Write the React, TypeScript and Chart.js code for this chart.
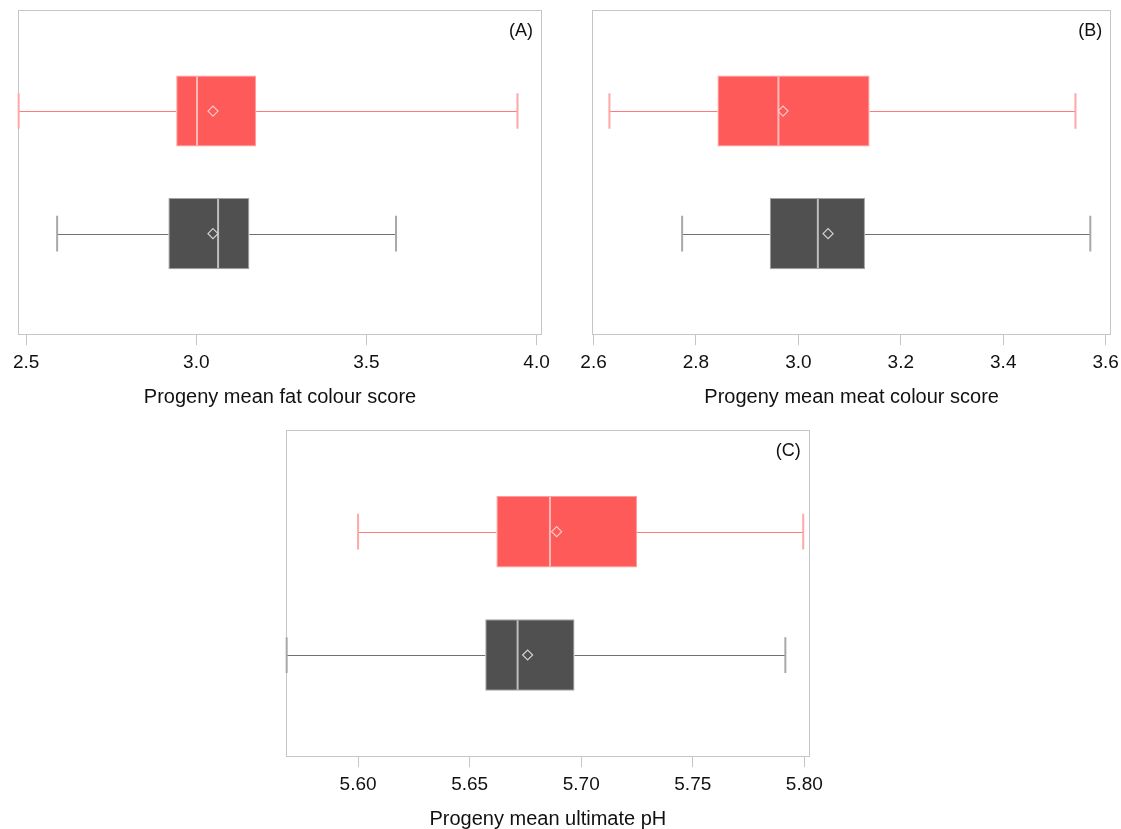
import React, { useEffect, useRef } from 'react';
import { Chart, registerables } from 'chart.js';

Chart.register(...registerables);

// ---- Data ----
const groupPos = [1, 2]; // red group on top, dark group below

// (A) Progeny mean fat colour score
const fatMin = [2.478, 2.591];
const fatQ1 = [2.941, 2.918];
const fatMedian = [3.002, 3.064];
const fatQ3 = [3.176, 3.156];
const fatMax = [3.944, 3.587];
const fatMean = [3.049, 3.049];
const fatTicks = [2.5, 3.0, 3.5, 4.0];

// (B) Progeny mean meat colour score
const meatMin = [2.631, 2.773];
const meatQ1 = [2.842, 2.944];
const meatMedian = [2.961, 3.038];
const meatQ3 = [3.139, 3.13];
const meatMax = [3.541, 3.57];
const meatMean = [2.97, 3.058];
const meatTicks = [2.6, 2.8, 3.0, 3.2, 3.4, 3.6];

// (C) Progeny mean ultimate pH
const phMin = [5.6, 5.568];
const phQ1 = [5.662, 5.657];
const phMedian = [5.686, 5.6715];
const phQ3 = [5.725, 5.697];
const phMax = [5.7995, 5.7915];
const phMean = [5.689, 5.676];
const phTicks = [5.6, 5.65, 5.7, 5.75, 5.8];

// ---- Styles ----
const FONT = "'Liberation Sans', Arial, Helvetica, sans-serif";
const fillColors = ['#FF5A5A', '#505050'];
const boxBorderColors = ['#FF9C9C', '#A3A3A3'];
const whiskerColors = ['#FF7A7A', '#707070'];
const capColors = ['#FFA8A8', '#A8A8A8'];
const medianColors = ['#FFB8B8', '#BEBEBE'];
const meanColors = ['#FFCACA', '#D2D2D2'];
const frameColor = '#C6C6C6';

const boxExtras = {
  id: 'boxExtras',
  beforeDatasetsDraw(chart: any) {
    const ctx = chart.ctx;
    const a = chart.chartArea;
    ctx.save();
    ctx.strokeStyle = frameColor;
    ctx.lineWidth = 1;
    ctx.strokeRect(Math.round(a.left) + 0.5, Math.round(a.top) + 0.5, Math.round(a.right - a.left) - 1, Math.round(a.bottom - a.top) - 1);
    ctx.restore();
  },
  beforeDatasetDraw(chart: any, args: any, opts: any) {
    if (args.meta.type !== 'bar') return;
    const ctx = chart.ctx;
    const xs = chart.scales.x;
    ctx.save();
    args.meta.data.forEach((el: any, i: number) => {
      const { y, height } = el.getProps(['y', 'height'], true);
      const yc = Math.round(y) + 0.5;
      const xmin = xs.getPixelForValue(opts.min[i]);
      const xq1 = xs.getPixelForValue(opts.q1[i]);
      const xq3 = xs.getPixelForValue(opts.q3[i]);
      const xmax = xs.getPixelForValue(opts.max[i]);
      ctx.strokeStyle = whiskerColors[i];
      ctx.lineWidth = 1;
      ctx.beginPath();
      ctx.moveTo(xmin, yc);
      ctx.lineTo(xq1, yc);
      ctx.moveTo(xq3, yc);
      ctx.lineTo(xmax, yc);
      ctx.stroke();
      const ch = Math.abs(height) / 4;
      ctx.strokeStyle = capColors[i];
      ctx.lineWidth = 2;
      ctx.beginPath();
      ctx.moveTo(xmin, y - ch);
      ctx.lineTo(xmin, y + ch);
      ctx.moveTo(xmax, y - ch);
      ctx.lineTo(xmax, y + ch);
      ctx.stroke();
    });
    ctx.restore();
  },
  afterDatasetDraw(chart: any, args: any, opts: any) {
    if (args.meta.type !== 'bar') return;
    const ctx = chart.ctx;
    const xs = chart.scales.x;
    ctx.save();
    args.meta.data.forEach((el: any, i: number) => {
      const { y, height } = el.getProps(['y', 'height'], true);
      const h = Math.abs(height) / 2;
      const xm = xs.getPixelForValue(opts.median[i]);
      ctx.strokeStyle = medianColors[i];
      ctx.lineWidth = 2;
      ctx.beginPath();
      ctx.moveTo(xm, y - h + 1);
      ctx.lineTo(xm, y + h - 1);
      ctx.stroke();
    });
    ctx.restore();
  },
  afterDraw(chart: any, _args: any, opts: any) {
    const ctx = chart.ctx;
    const a = chart.chartArea;
    ctx.save();
    ctx.fillStyle = '#111';
    ctx.font = `18px ${FONT}`;
    ctx.textAlign = 'right';
    ctx.textBaseline = 'middle';
    ctx.fillText(opts.label, a.right - 9, a.top + 21);
    ctx.restore();
  },
};

interface PanelCfg {
  left: number; top: number; w: number; h: number;
  padding: { left: number; right: number; top: number; bottom: number };
  min: number[]; q1: number[]; median: number[]; q3: number[]; max: number[]; mean: number[];
  ticks: number[]; decimals: number; xMin: number; xMax: number;
  title: string; label: string;
}

function Panel({ cfg }: { cfg: PanelCfg }) {
  const ref = useRef<HTMLCanvasElement>(null);
  useEffect(() => {
    if (!ref.current) return;
    const chart = new Chart(ref.current, {
      type: 'bar',
      data: {
        datasets: [
          {
            type: 'scatter',
            label: 'Mean',
            data: cfg.mean.map((m, i) => ({ x: m, y: groupPos[i] })),
            pointStyle: 'rectRot',
            pointRadius: 5,
            pointBorderWidth: 1.2,
            pointBorderColor: meanColors,
            pointBackgroundColor: 'rgba(0,0,0,0)',
            showLine: false,
            order: 0,
          } as any,
          {
            type: 'bar',
            label: 'IQR',
            data: cfg.q1.map((q, i) => ({ x: [q, cfg.q3[i]], y: groupPos[i] })),
            backgroundColor: fillColors,
            borderColor: boxBorderColors,
            borderWidth: 1,
            borderSkipped: false,
            barPercentage: 0.58,
            categoryPercentage: 1,
            order: 1,
          } as any,
        ],
      },
      options: {
        indexAxis: 'y',
        animation: false,
        responsive: false,
        layout: { padding: cfg.padding },
        plugins: {
          legend: { display: false },
          tooltip: { enabled: false },
          boxExtras: {
            min: cfg.min, q1: cfg.q1, median: cfg.median, q3: cfg.q3, max: cfg.max, label: cfg.label,
          },
        } as any,
        scales: {
          x: {
            type: 'linear',
            min: cfg.xMin,
            max: cfg.xMax,
            offset: false,
            afterBuildTicks: (s: any) => {
              s.ticks = cfg.ticks.map((v) => ({ value: v }));
            },
            ticks: {
              callback: (v: any) => Number(v).toFixed(cfg.decimals),
              font: { family: FONT, size: 19 },
              color: '#111',
              padding: 6,
              maxRotation: 0,
              autoSkip: false,
            },
            grid: {
              display: true,
              drawOnChartArea: false,
              drawTicks: true,
              tickLength: 10,
              color: frameColor,
              lineWidth: 1,
              offset: false,
            },
            border: { display: false },
            title: {
              display: true,
              text: cfg.title,
              font: { family: FONT, size: 20 },
              color: '#111',
              padding: { top: 5, bottom: 4 },
            },
          },
          y: {
            type: 'linear',
            reverse: true,
            offset: false,
            min: 0.1755,
            max: 2.8286,
            display: false,
            grid: { offset: false },
            afterBuildTicks: (s: any) => {
              s.ticks = groupPos.map((v) => ({ value: v }));
            },
          },
        } as any,
      },
      plugins: [boxExtras],
    } as any);
    return () => chart.destroy();
  }, []);
  return (
    <canvas
      ref={ref}
      width={cfg.w}
      height={cfg.h}
      style={{ position: 'absolute', left: cfg.left, top: cfg.top, width: cfg.w, height: cfg.h }}
    />
  );
}

const panelA: PanelCfg = {
  left: 0, top: 0, w: 560, h: 415,
  padding: { left: 18, right: 18, top: 10, bottom: 2 },
  min: fatMin, q1: fatQ1, median: fatMedian, q3: fatQ3, max: fatMax, mean: fatMean,
  ticks: fatTicks, decimals: 1, xMin: 2.476, xMax: 4.016,
  title: 'Progeny mean fat colour score', label: '(A)',
};

const panelB: PanelCfg = {
  left: 570, top: 0, w: 555, h: 415,
  padding: { left: 22, right: 11, top: 10, bottom: 2 },
  min: meatMin, q1: meatQ1, median: meatMedian, q3: meatQ3, max: meatMax, mean: meatMean,
  ticks: meatTicks, decimals: 1, xMin: 2.597, xMax: 3.611,
  title: 'Progeny mean meat colour score', label: '(B)',
};

const panelC: PanelCfg = {
  left: 266, top: 420, w: 563, h: 420,
  padding: { left: 20, right: 17, top: 10, bottom: 5 },
  min: phMin, q1: phQ1, median: phMedian, q3: phQ3, max: phMax, mean: phMean,
  ticks: phTicks, decimals: 2, xMin: 5.5677, xMax: 5.8024,
  title: 'Progeny mean ultimate pH', label: '(C)',
};

export default function App() {
  return (
    <div
      style={{
        position: 'absolute', left: 0, top: 0, width: 1121, height: 829,
        overflow: 'hidden', background: '#fff', fontFamily: FONT,
      }}
    >
      <Panel cfg={panelA} />
      <Panel cfg={panelB} />
      <Panel cfg={panelC} />
    </div>
  );
}
